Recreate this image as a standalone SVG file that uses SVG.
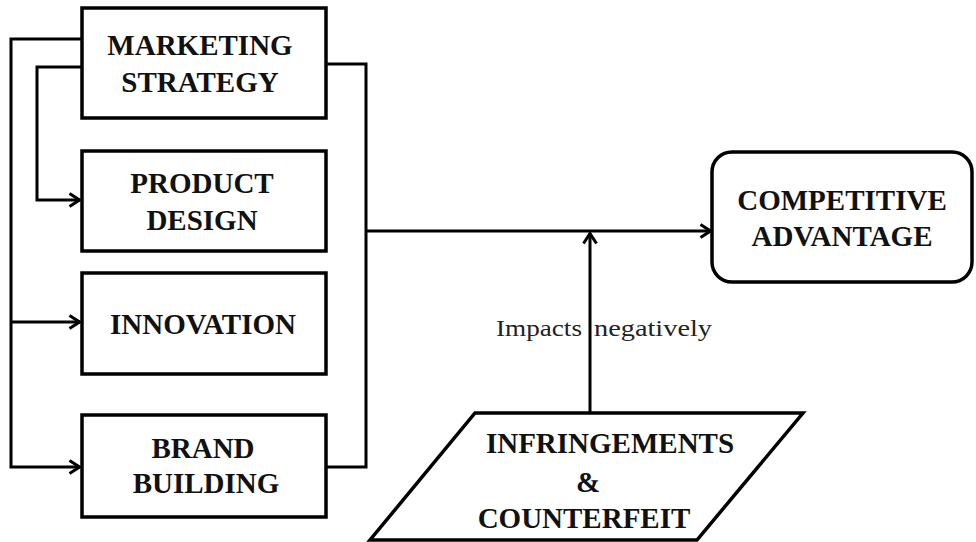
<svg xmlns="http://www.w3.org/2000/svg" width="976" height="542" viewBox="0 0 976 542">
  <defs>
    <marker id="arrow" viewBox="0 0 14 16" refX="12.5" refY="8" markerWidth="14" markerHeight="16" markerUnits="userSpaceOnUse" orient="auto">
      <path d="M2,1.5 L12,8 L2,14.5" fill="none" stroke="#000" stroke-width="3" stroke-linejoin="miter"/>
    </marker>
  </defs>
  <style>
    .box { fill: #fff; stroke: #000; stroke-width: 3.5; }
    .wire { fill: none; stroke: #000; stroke-width: 3; }
    .lbl { font-family: "Liberation Serif", "Times New Roman", serif; font-weight: bold; font-size: 29px; fill: #111; text-anchor: middle; }
    .note { font-family: "Liberation Serif", "Times New Roman", serif; font-size: 24px; fill: #222; }
  </style>
  <rect width="976" height="542" fill="#fff"/>

  <!-- connectors -->
  <g id="connectors">
    <!-- marketing strategy feeds the other inputs on the left -->
    <polyline class="wire" points="82,39 11,39 11,467 80,467" marker-end="url(#arrow)"/>
    <line class="wire" x1="11" y1="322" x2="80" y2="322" marker-end="url(#arrow)"/>
    <polyline class="wire" points="82,67 37,67 37,200 80,200" marker-end="url(#arrow)"/>
    <!-- right-hand bracket gathering the inputs -->
    <polyline class="wire" points="326,64 366,64 366,467 326,467"/>
    <line class="wire" x1="366" y1="231" x2="711" y2="231" marker-end="url(#arrow)"/>
    <!-- negative impact -->
    <line class="wire" x1="590" y1="413" x2="590" y2="233" marker-end="url(#arrow)"/>
  </g>

  <g id="marketing-strategy">
    <rect class="box" x="82" y="8" width="244" height="110"/>
    <text class="lbl" x="200" y="55">MARKETING</text>
    <text class="lbl" x="200" y="92">STRATEGY</text>
  </g>

  <g id="product-design">
    <rect class="box" x="82" y="151" width="244" height="100"/>
    <text class="lbl" x="202" y="193">PRODUCT</text>
    <text class="lbl" x="202" y="230">DESIGN</text>
  </g>

  <g id="innovation">
    <rect class="box" x="82" y="273" width="244" height="101"/>
    <text class="lbl" x="203" y="334">INNOVATION</text>
  </g>

  <g id="brand-building">
    <rect class="box" x="82" y="415" width="244" height="102"/>
    <text class="lbl" x="203" y="458">BRAND</text>
    <text class="lbl" x="206" y="493">BUILDING</text>
  </g>

  <g id="competitive-advantage">
    <rect class="box" x="712" y="152" width="260" height="130" rx="20" ry="20"/>
    <text class="lbl" x="842" y="210">COMPETITIVE</text>
    <text class="lbl" x="842" y="246">ADVANTAGE</text>
  </g>

  <g id="infringements">
    <polygon class="box" points="475,413 803,413 697,540 370,540"/>
    <text class="lbl" x="610" y="453">INFRINGEMENTS</text>
    <text class="lbl" x="588" y="492">&amp;</text>
    <text class="lbl" x="584" y="528">COUNTERFEIT</text>
  </g>

  <g id="impact-label">
    <text class="note" x="496" y="336" textLength="86" lengthAdjust="spacingAndGlyphs">Impacts</text>
    <text class="note" x="594" y="336" textLength="118" lengthAdjust="spacingAndGlyphs">negatively</text>
  </g>
</svg>
